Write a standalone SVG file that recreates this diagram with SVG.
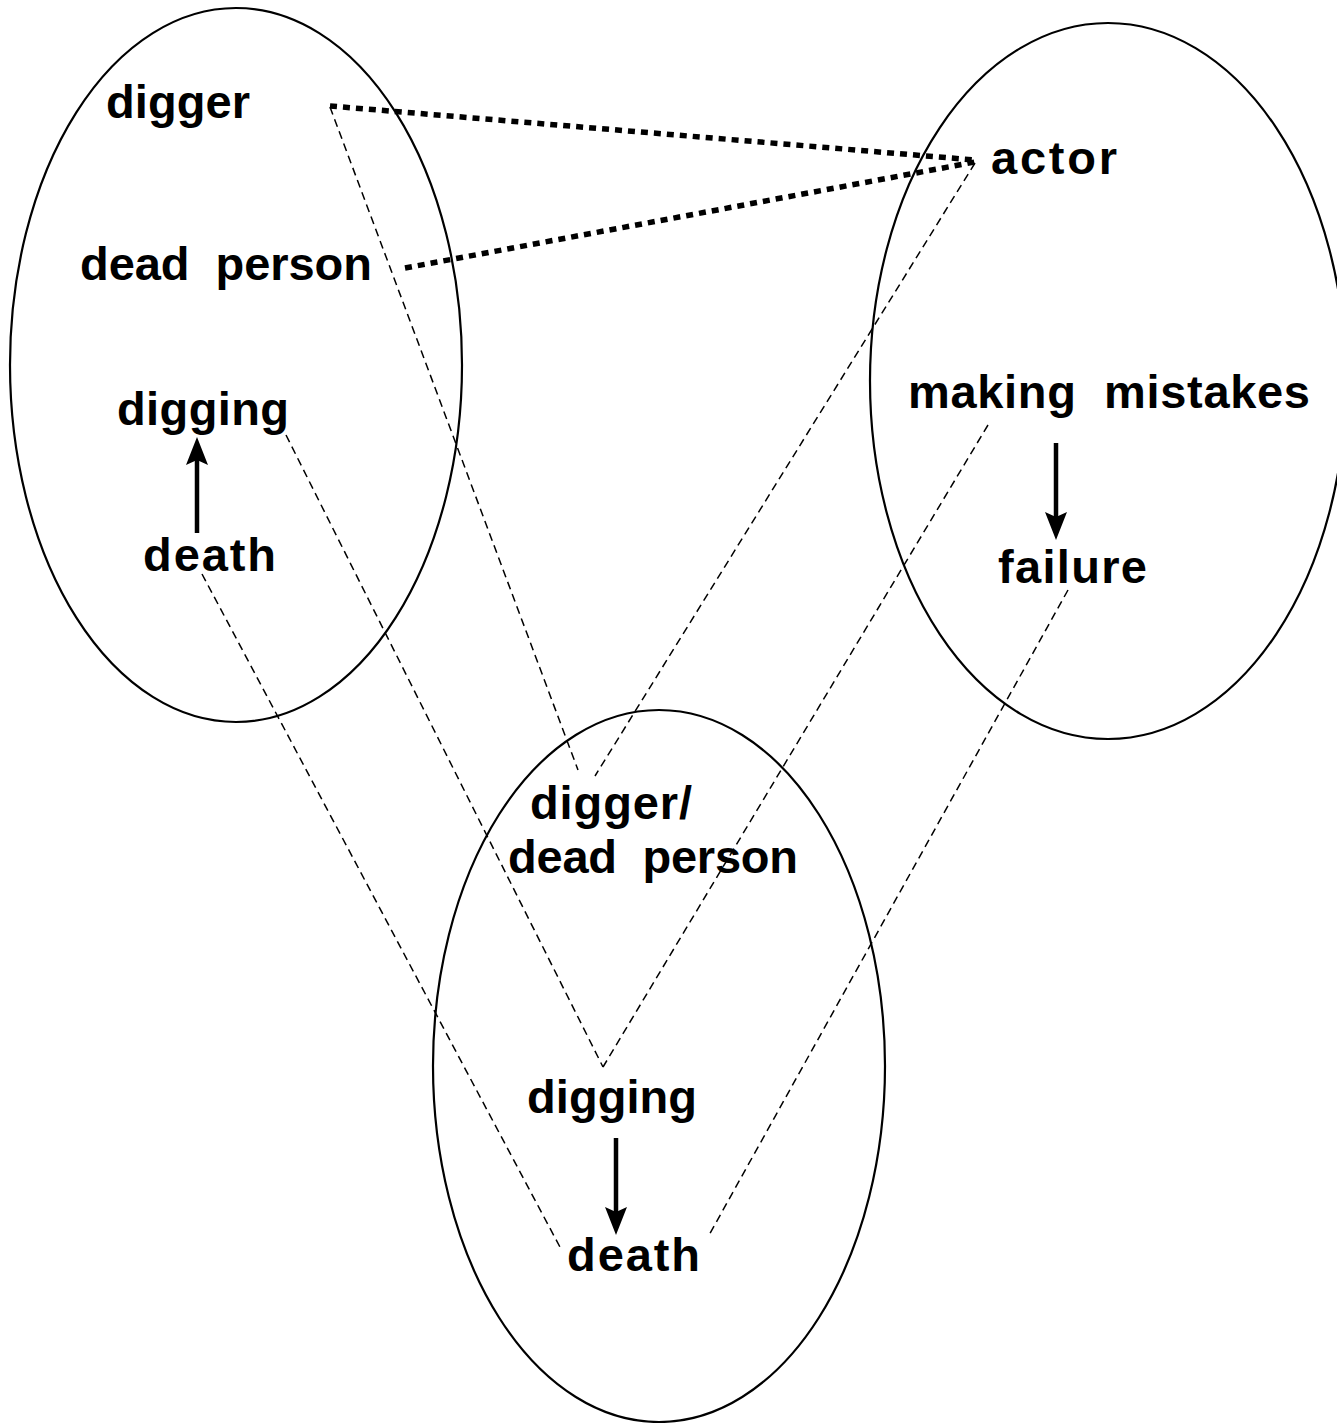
<svg xmlns="http://www.w3.org/2000/svg" width="1337" height="1423" viewBox="0 0 1337 1423">
<defs>
<style>
.ell{fill:none;stroke:#000;stroke-width:2.2}
.lbl{font-family:"Liberation Sans",Arial,Helvetica,sans-serif;font-weight:bold;font-size:47px;fill:#000;white-space:pre}
.thin{fill:none;stroke:#000;stroke-width:1.5;stroke-dasharray:8 5}
.thick{fill:none;stroke:#000;stroke-width:5.5;stroke-dasharray:7 6}
.arr{fill:none;stroke:#000;stroke-width:4.5;marker-end:url(#head)}
</style>
<marker id="head" markerUnits="userSpaceOnUse" viewBox="0 0 28 22" markerWidth="28" markerHeight="22" refX="5" refY="11" orient="auto">
<path d="M0,0 L28,11 L0,22 L5,11 Z" fill="#000"/>
</marker>
</defs>
<rect width="1337" height="1423" fill="#fff"/>
<g id="ellipses">
<ellipse id="e-left" class="ell" cx="236" cy="365" rx="226" ry="357"/>
<ellipse id="e-right" class="ell" cx="1108" cy="381" rx="238" ry="358"/>
<ellipse id="e-bottom" class="ell" cx="659" cy="1066" rx="226" ry="356"/>
</g>
<g id="connectors">
<line class="thick" x1="330" y1="106" x2="975" y2="160"/>
<line class="thick" x1="405" y1="268" x2="975" y2="162"/>
<line class="thin" x1="330" y1="107" x2="578" y2="770"/>
<line class="thin" x1="975" y1="163" x2="595" y2="776"/>
<line class="thin" x1="286" y1="435" x2="603" y2="1067"/>
<line class="thin" x1="988" y1="425" x2="603" y2="1067"/>
<line class="thin" x1="202" y1="574" x2="561" y2="1249"/>
<line class="thin" x1="1068" y1="590" x2="708" y2="1237"/>
<line class="arr" x1="197" y1="533" x2="197" y2="460"/>
<line class="arr" x1="1056" y1="443" x2="1056" y2="517"/>
<line class="arr" x1="616" y1="1138" x2="616" y2="1212"/>
</g>
<g id="n-digger"><text class="lbl" x="106" y="118" textLength="144" lengthAdjust="spacing">digger</text></g>
<g id="n-deadperson"><text class="lbl" x="80" y="280" textLength="292" lengthAdjust="spacing" xml:space="preserve">dead  person</text></g>
<g id="n-digging1"><text class="lbl" x="117" y="425" textLength="172" lengthAdjust="spacing">digging</text></g>
<g id="n-death1"><text class="lbl" x="143" y="571" textLength="133" lengthAdjust="spacing">death</text></g>
<g id="n-actor"><text class="lbl" x="991" y="174" textLength="126" lengthAdjust="spacing">actor</text></g>
<g id="n-mistakes"><text class="lbl" x="908" y="408" textLength="402" lengthAdjust="spacing" xml:space="preserve">making  mistakes</text></g>
<g id="n-failure"><text class="lbl" x="998" y="583" textLength="149" lengthAdjust="spacing">failure</text></g>
<g id="n-digger2"><text class="lbl" x="530" y="819" textLength="162" lengthAdjust="spacing">digger/</text></g>
<g id="n-deadperson2"><text class="lbl" x="508" y="873" textLength="290" lengthAdjust="spacing" xml:space="preserve">dead  person</text></g>
<g id="n-digging2"><text class="lbl" x="527" y="1113" textLength="170" lengthAdjust="spacing">digging</text></g>
<g id="n-death2"><text class="lbl" x="567" y="1271" textLength="133" lengthAdjust="spacing">death</text></g>
</svg>
